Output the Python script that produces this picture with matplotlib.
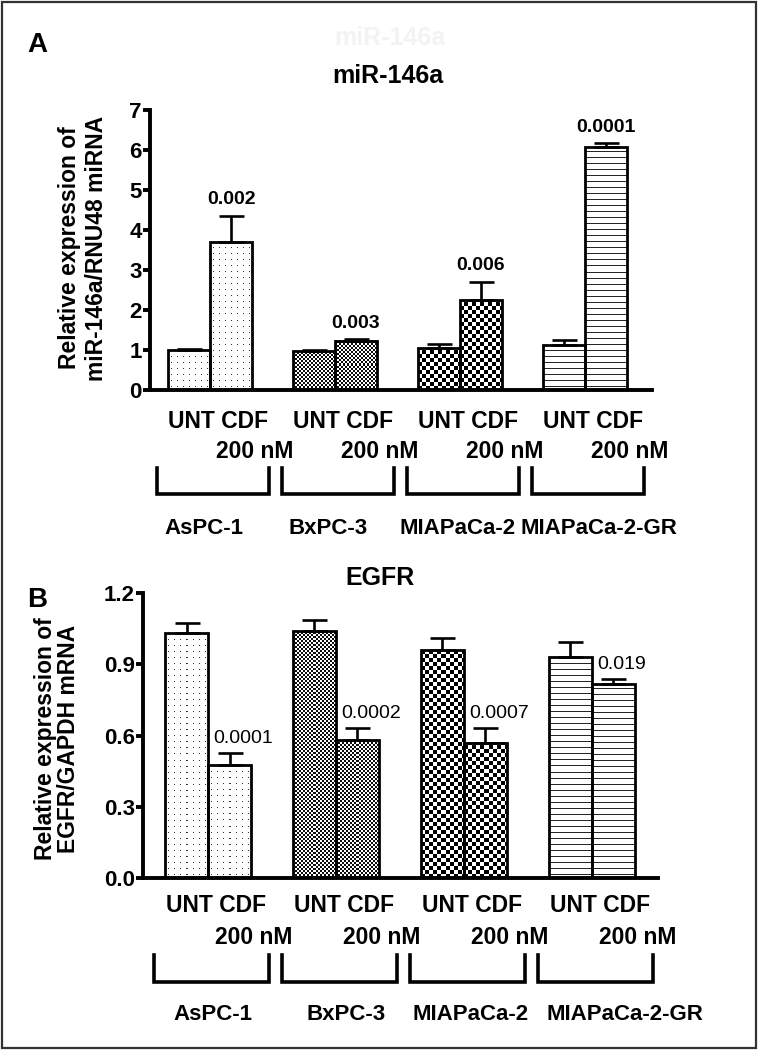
import numpy as np
import matplotlib
matplotlib.use("Agg")
import matplotlib.pyplot as plt
from matplotlib.transforms import blended_transform_factory
from matplotlib.patches import Rectangle

plt.rcParams['font.family'] = ['Liberation Sans', 'DejaVu Sans']

# ---------------- data ----------------
cell_lines = ['AsPC-1', 'BxPC-3', 'MIAPaCa-2', 'MIAPaCa-2-GR']
cond_line1 = 'UNT CDF'
cond_line2 = '200 nM'

mir_unt = [1.00, 0.97, 1.04, 1.12]
mir_unt_err = [0.02, 0.04, 0.10, 0.12]
mir_cdf = [3.71, 1.23, 2.25, 6.08]
mir_cdf_err = [0.65, 0.05, 0.46, 0.10]
mir_p = ['0.002', '0.003', '0.006', '0.0001']

egfr_unt = [1.033, 1.040, 0.960, 0.932]
egfr_unt_err = [0.040, 0.046, 0.052, 0.062]
egfr_cdf = [0.476, 0.581, 0.570, 0.816]
egfr_cdf_err = [0.050, 0.050, 0.063, 0.022]
egfr_p = ['0.0001', '0.0002', '0.0007', '0.019']

mir_yticks = [0, 1, 2, 3, 4, 5, 6, 7]
egfr_yticks = [0.0, 0.3, 0.6, 0.9, 1.2]

patterns = ['dots', 'fine', 'check', 'hlines']

# ---------------- figure ----------------
W, H = 758, 1050
fig = plt.figure(figsize=(W / 100, H / 100), dpi=100)


def fx(x):
    return x / W


def fy(y):
    return 1 - y / H


def make_axes(l, r, t, b):
    return fig.add_axes([fx(l), fy(b), (r - l) / W, (b - t) / H])


def pattern_img(kind, w, h):
    yy, xx = np.mgrid[0:h, 0:w]
    img = np.ones((h, w, 3))
    if kind == 'dots':
        m = ((xx % 6) == 3) & ((yy % 6) == 3)
        ink = 0.2
    elif kind == 'fine':
        m = ((xx // 2 + yy // 2) % 2) == 0
        ink = 0.05
    elif kind == 'check':
        m = ((xx // 4 + yy // 4) % 2) == 0
        ink = 0.0
    else:
        m = (yy % 6) == 3
        ink = 0.15
    img[m] = ink
    return img


def draw_panel(ax, unt, unt_err, cdf, cdf_err, pvals, ylim, yticks, ytl,
               xlim, plabel_style):
    ax.set_xlim(*xlim)
    ax.set_ylim(*ylim)
    x = np.arange(len(cell_lines))
    bw = 0.336
    xs_unt = x - bw / 2
    xs_cdf = x + bw / 2
    fig.canvas.draw()
    for vals, xs in ((unt, xs_unt), (cdf, xs_cdf)):
        bars = ax.bar(xs, vals, width=bw, facecolor='none', edgecolor='black',
                      linewidth=2.0, zorder=3)
        for b, kind in zip(bars, patterns):
            x0, w, h = b.get_x(), b.get_width(), b.get_height()
            p0 = ax.transData.transform((x0, 0))
            p1 = ax.transData.transform((x0 + w, h))
            pw = max(int(round(p1[0] - p0[0])), 1)
            ph = max(int(round(p1[1] - p0[1])), 1)
            ax.imshow(pattern_img(kind, pw, ph), extent=(x0, x0 + w, 0, h),
                      interpolation='nearest', aspect='auto', zorder=1,
                      origin='lower')
    ax.set_xlim(*xlim)
    ax.set_ylim(*ylim)
    ax.errorbar(xs_unt, unt, yerr=[np.zeros(len(unt)), unt_err], fmt='none',
                ecolor='black', elinewidth=1.9, capsize=9, capthick=1.9, zorder=2)
    ax.errorbar(xs_cdf, cdf, yerr=[np.zeros(len(cdf)), cdf_err], fmt='none',
                ecolor='black', elinewidth=1.9, capsize=9, capthick=1.9, zorder=2)
    for xi, v, e, p in zip(xs_cdf, cdf, cdf_err, pvals):
        if plabel_style == 'A':
            ax.annotate(p, xy=(xi, v + e), xytext=(0, 8), textcoords='offset points',
                        ha='center', va='baseline', fontsize=14, fontweight='bold')
        else:
            ax.annotate(p, xy=(xi - bw / 2, v + e), xytext=(4, 7),
                        textcoords='offset points', ha='left', va='baseline',
                        fontsize=14)
    for s in ('top', 'right'):
        ax.spines[s].set_visible(False)
    for s in ('left', 'bottom'):
        ax.spines[s].set_linewidth(2.8)
    ax.set_yticks(yticks)
    ax.set_yticklabels(ytl, fontsize=16, fontweight='bold')
    ax.set_xticks([])
    ax.tick_params(axis='y', direction='out', length=5, width=2.8, pad=1)
    ax.set_facecolor('none')


def draw_categories(ax, y_line1, y_line2, y_br_top, y_br_bot, y_group, group_dx):
    tr = blended_transform_factory(ax.transData, fig.transFigure)
    for i, name in enumerate(cell_lines):
        fig.text(i + 0.065, fy(y_line1), cond_line1, transform=tr, ha='center',
                 va='center', fontsize=16.5, fontweight='bold')
        fig.text(i + 0.36, fy(y_line2), cond_line2, transform=tr, ha='center',
                 va='center', fontsize=16.5, fontweight='bold')
        xl, xr = i - 0.425, i + 0.475
        fig.add_artist(plt.Line2D([xl, xl, xr, xr],
                                  [fy(y_br_top), fy(y_br_bot), fy(y_br_bot), fy(y_br_top)],
                                  transform=tr, color='black', linewidth=2.6,
                                  solid_joinstyle='miter'))
        fig.text(i + group_dx[i], fy(y_group), name, transform=tr, ha='center',
                 va='center', fontsize=16, fontweight='bold')


# Panel A
axA = make_axes(150, 652, 110, 390)
draw_panel(axA, mir_unt, mir_unt_err, mir_cdf, mir_cdf_err, mir_p, (0, 7),
           mir_yticks, [str(t) for t in mir_yticks], (-0.48, 3.536), 'A')
draw_categories(axA, 421, 451, 468, 494, 529, [-0.048, -0.056, -0.016, 0.112])

# Panel B
axB = make_axes(143, 658, 593, 878)
draw_panel(axB, egfr_unt, egfr_unt_err, egfr_cdf, egfr_cdf_err, egfr_p, (0, 1.2),
           egfr_yticks, ['%.1f' % t for t in egfr_yticks], (-0.508, 3.516), 'B')
draw_categories(axB, 906, 937, 955, 982, 1015, [0.039, 0.078, 0.055, 0.258])

# Titles and labels
fig.text(fx(390), fy(38), 'miR-146a', ha='center', va='center', fontsize=18,
         fontweight='bold', color='#f3f3f3')
fig.text(fx(37), fy(45), 'A', ha='center', va='center', fontsize=20, fontweight='bold')
fig.text(fx(37), fy(600), 'B', ha='center', va='center', fontsize=20, fontweight='bold')
fig.text(fx(388), fy(76), 'miR-146a', ha='center', va='center', fontsize=18,
         fontweight='bold')
fig.text(fx(380), fy(578), 'EGFR', ha='center', va='center', fontsize=18,
         fontweight='bold')
fig.text(fx(83), fy(248), 'Relative expression of\nmiR-146a/RNU48 miRNA', rotation=90,
         ha='center', va='center', fontsize=16.5, fontweight='bold',
         multialignment='center', linespacing=1.2)
fig.text(fx(57), fy(739), 'Relative expression of\nEGFR/GAPDH mRNA', rotation=90,
         ha='center', va='center', fontsize=16.5, fontweight='bold',
         multialignment='center', linespacing=1.0)

# outer frame
fig.add_artist(Rectangle((fx(2), fy(1048)), (W - 4) / W, (H - 4) / H,
                         transform=fig.transFigure, fill=False,
                         edgecolor='#333333', linewidth=1.6))

fig.savefig('out.png', dpi=100)
